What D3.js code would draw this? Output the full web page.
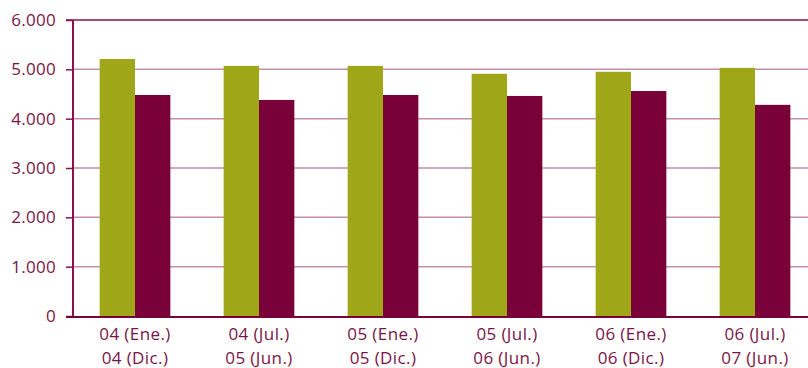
<!DOCTYPE html>
<html>
<head>
<meta charset="utf-8">
<script src="https://cdn.jsdelivr.net/npm/d3@7"></script>
<style>
  html, body { margin: 0; padding: 0; background: #fff; }
  svg { display: block; }
  text { font-family: "Open Sans", "Noto Sans", sans-serif; fill: #7a1448; }
</style>
</head>
<body>
<svg id="chart" width="808" height="368"></svg>
<script>
// Period labels (two lines per group)
const periodsA = ["04 (Ene.)", "04 (Jul.)", "05 (Ene.)", "05 (Jul.)", "06 (Ene.)", "06 (Jul.)"];
const periodsB = ["04 (Dic.)", "05 (Jun.)", "05 (Dic.)", "06 (Jun.)", "06 (Dic.)", "07 (Jun.)"];
// Two series
const seriesGreen  = [5210, 5070, 5070, 4910, 4950, 5030];
const seriesMaroon = [4480, 4380, 4480, 4460, 4560, 4280];
// Y ticks
const yTicks = [0, 1000, 2000, 3000, 4000, 5000, 6000];
const yTickLabels = ["0", "1.000", "2.000", "3.000", "4.000", "5.000", "6.000"];

const svg = d3.select("#chart");
const plotL = 73, plotR = 817, plotT = 20, plotB = 316;

const x = d3.scaleBand().domain(d3.range(periodsA.length)).range([plotL, plotR]).paddingInner(0.43).paddingOuter(0.215);
const y = d3.scaleLinear().domain([0, 6000]).range([plotB, plotT]);

// Gridlines
svg.append("g").selectAll("line")
  .data(yTicks.filter(v => v > 0 && v < 6000))
  .join("line")
  .attr("x1", plotL).attr("x2", 808)
  .attr("y1", d => y(d)).attr("y2", d => y(d))
  .attr("stroke", "#c58fa8").attr("stroke-width", 1.5);

// Top border line
svg.append("line")
  .attr("x1", 66).attr("x2", 808).attr("y1", y(6000)).attr("y2", y(6000))
  .attr("stroke", "#8a1050").attr("stroke-width", 1.5);

// Bars
const inner = d3.scaleBand().domain([0, 1]).range([0, x.bandwidth()]);
const bars = svg.append("g");
bars.selectAll("rect.g")
  .data(seriesGreen).join("rect")
  .attr("x", (d, i) => x(i) + inner(0)).attr("width", inner.bandwidth())
  .attr("y", d => y(d)).attr("height", d => plotB - y(d))
  .attr("fill", "#9fa617");
bars.selectAll("rect.m")
  .data(seriesMaroon).join("rect")
  .attr("x", (d, i) => x(i) + inner(1)).attr("width", inner.bandwidth())
  .attr("y", d => y(d)).attr("height", d => plotB - y(d))
  .attr("fill", "#7a003a");

// Y axis
const yAxis = d3.axisLeft(y).tickValues(yTicks).tickFormat((d, i) => yTickLabels[i]).tickSize(7).tickPadding(10);
const gy = svg.append("g").attr("transform", `translate(${plotL},0)`).call(yAxis);
gy.select(".domain").remove();
gy.selectAll(".tick line").attr("stroke", "#8a1050").attr("stroke-width", 1.5);
gy.selectAll(".tick text")
  .style("font-size", "17px").style("letter-spacing", "0.3px")
  .style("font-family", "'Open Sans', sans-serif").attr("fill", "#7a1448");
svg.append("line").attr("x1", plotL).attr("x2", plotL).attr("y1", plotT).attr("y2", plotB + 1)
  .attr("stroke", "#8a1050").attr("stroke-width", 2);

// X axis baseline
svg.append("line").attr("x1", 66).attr("x2", 808).attr("y1", plotB + 1).attr("y2", plotB + 1)
  .attr("stroke", "#7a003a").attr("stroke-width", 2);

// Category labels
const labels = svg.append("g");
periodsA.forEach((p, i) => {
  const cx = x(i) + x.bandwidth() / 2;
  const t = labels.append("text").attr("x", cx).attr("text-anchor", "middle")
    .style("font-size", "17px").style("letter-spacing", "0.4px");
  t.append("tspan").attr("x", cx).attr("y", 340).text(p);
  t.append("tspan").attr("x", cx).attr("y", 364).text(periodsB[i]);
});
</script>
</body>
</html>
